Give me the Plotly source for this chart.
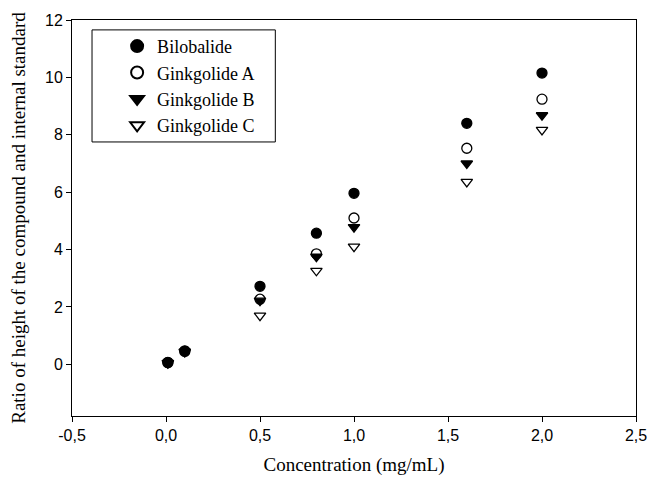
import plotly.graph_objects as go

concentration = [0.01, 0.1, 0.5, 0.8, 1.0, 1.6, 2.0]
bilobalide = [0.07, 0.47, 2.72, 4.57, 5.96, 8.40, 10.15]
ginkgolide_a = [0.06, 0.45, 2.27, 3.85, 5.10, 7.53, 9.24]
ginkgolide_b = [0.05, 0.44, 2.22, 3.75, 4.78, 7.00, 8.68]
ginkgolide_c = [0.04, 0.43, 1.70, 3.26, 4.10, 6.36, 8.17]

x_ticks = [-0.5, 0.0, 0.5, 1.0, 1.5, 2.0, 2.5]
x_tick_labels = ["-0,5", "0,0", "0,5", "1,0", "1,5", "2,0", "2,5"]
y_ticks = [0, 2, 4, 6, 8, 10, 12]

series = [
    ("Bilobalide", bilobalide, "circle", "black"),
    ("Ginkgolide A", ginkgolide_a, "circle-open", "black"),
    ("Ginkgolide B", ginkgolide_b, "triangle-down", "black"),
    ("Ginkgolide C", ginkgolide_c, "triangle-down-open", "black"),
]

fig = go.Figure()
for name, vals, sym, col in series:
    fig.add_trace(go.Scatter(
        x=concentration, y=vals, mode="markers", name=name,
        marker=dict(symbol=sym, size=10, color=col, line=dict(color="black", width=1.3)),
    ))

serif = "Liberation Serif, Times New Roman, serif"
sans = "Liberation Sans, Arial, sans-serif"

fig.update_layout(
    width=649, height=481,
    margin=dict(l=72, r=13, t=20, b=65),
    plot_bgcolor="white", paper_bgcolor="white",
    showlegend=True,
    legend=dict(
        x=0.080, y=0.98, xanchor="left", yanchor="top",
        bgcolor="rgba(0,0,0,0)", borderwidth=0,
        font=dict(family=serif, size=18, color="black"),
        tracegroupgap=0, itemsizing="constant",
    ),
    shapes=[dict(type="rect", xref="paper", yref="paper",
                 x0=0.0355, x1=0.3605, y0=0.692, y1=0.975,
                 line=dict(color="black", width=1), fillcolor="rgba(0,0,0,0)")],
    xaxis=dict(
        range=[-0.5, 2.5], tickvals=x_ticks, ticktext=x_tick_labels,
        ticks="outside", ticklen=5, tickcolor="black",
        showline=True, linecolor="black", linewidth=1, mirror=True,
        showgrid=False, zeroline=False, automargin=False,
        tickfont=dict(family=sans, size=16, color="black"),
        title=dict(text="Concentration (mg/mL)", font=dict(family=serif, size=19, color="black"), standoff=14),
    ),
    yaxis=dict(
        range=[-1.8, 12], tickvals=y_ticks,
        ticks="outside", ticklen=5, tickcolor="black",
        showline=True, linecolor="black", linewidth=1, mirror=True,
        showgrid=False, zeroline=False, automargin=False,
        tickfont=dict(family=sans, size=16, color="black"),
        title=dict(text="Ratio of height of the compound and internal standard",
                   font=dict(family=serif, size=19, color="black"), standoff=14),
    ),
)

fig.write_html("out.html", config={"displayModeBar": False})

# remove the default page margin so the figure sits at the window's top-left corner
with open("out.html", "r", encoding="utf-8") as f:
    html = f.read()
html = html.replace("<body>", '<body style="margin:0;overflow:hidden">', 1)
with open("out.html", "w", encoding="utf-8") as f:
    f.write(html)
